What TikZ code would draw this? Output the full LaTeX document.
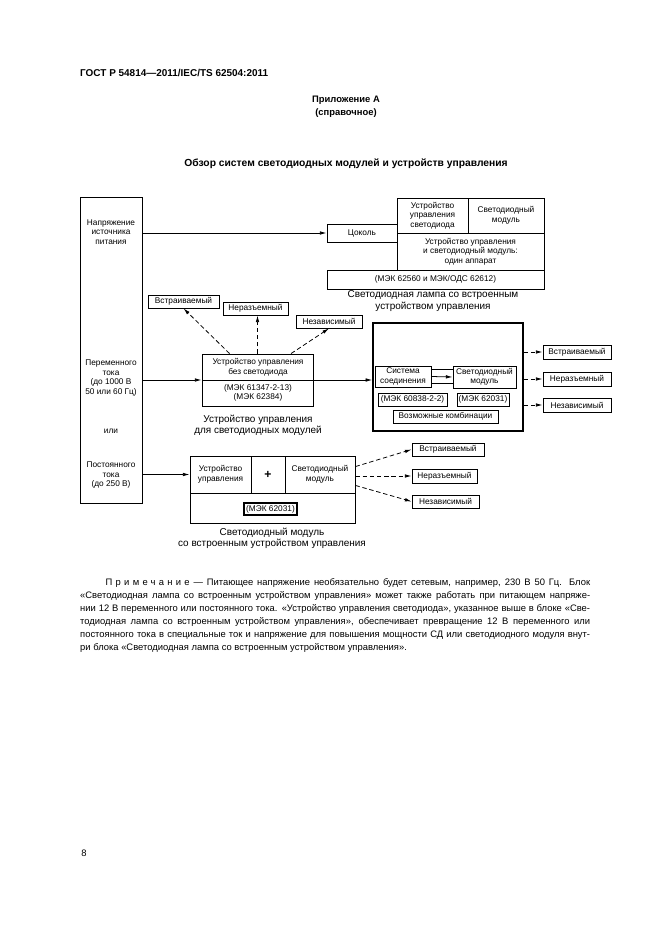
\documentclass[tikz,border=0pt]{standalone}
\usepackage{fontspec}
\setmainfont{Liberation Sans}
\usepackage{tikz}
\usetikzlibrary{arrows.meta}
\usetikzlibrary{calc}

\newcommand{\boxfont}{\fontsize{7.5}{8.6}\selectfont}
\newcommand{\lblfont}{\fontsize{9}{10.2}\selectfont}
\newcommand{\notefont}{\fontsize{8.5}{11.75}\selectfont}
\newlength{\notewd}\setlength{\notewd}{162mm}
\newcommand{\noteline}[1]{\makebox[\notewd][s]{#1}}

\tikzset{
  box/.style={draw, line width=0.8pt, inner sep=0pt, align=center, font=\boxfont},
  cell/.style 2 args={minimum width=#1*0.3177mm, minimum height=#2*0.3177mm},
  txt/.style={align=center, inner sep=0pt, font=\boxfont},
  lbl/.style={align=center, inner sep=0pt, font=\lblfont},
  arr/.style={-{Latex[length=6pt,width=3.2pt]}, line width=0.7pt},
  dsh/.style={arr, dash pattern=on 4pt off 2.5pt},
}

\begin{document}
\begin{tikzpicture}[x=0.3177mm, y=-0.3177mm]
  \useasboundingbox (0,0) rectangle (661,936);

  % header
  \node[anchor=west, inner sep=0pt, font=\fontsize{9}{10}\selectfont\bfseries] (gost) at (80,73) {ГОСТ Р 54814—2011/IEC/TS 62504:2011};
  \node[align=center, inner sep=0pt, font=\fontsize{8.5}{11.5}\selectfont\bfseries] (annex) at (346,107) {Приложение А\\(справочное)};
  \node[inner sep=0pt, font=\fontsize{9.3}{11}\selectfont\bfseries] (title) at (346,164) {Обзор систем светодиодных модулей и устройств управления};

  % power source
  \node[box, cell={62}{306}] (src) at (111,350) {};
  \node[txt] (srcA) at (111,232) {Напряжение\\источника\\питания};
  \node[txt] (srcB) at (111,378) {Переменного\\тока\\(до 1000 В\\50 или 60 Гц)};
  \node[txt] (srcC) at (111,431) {или};
  \node[txt] (srcD) at (111,475) {Постоянного\\тока\\(до 250 В)};

  % lamp with built-in control gear
  \node[box, cell={70}{18}] (socle) at (362,233) {Цоколь};
  \node[box, cell={71}{35}] (lampctl) at (432.5,215.5) {Устройство\\управления\\светодиода};
  \node[box, cell={76}{35}] (lampled) at (506,215.5) {Светодиодный\\модуль};
  \node[box, cell={147}{37}] (lampone) at (470.5,251.5) {Устройство управления\\и светодиодный модуль:\\один аппарат};
  \node[box, cell={217}{19}] (lampstd) at (435.5,279.5) {(МЭК 62560 и МЭК/ОДС 62612)};
  \node[lbl] (lamplbl) at (433,301) {Светодиодная лампа со встроенным\\устройством управления};
  \draw[arr] (src.east |- socle.west) -- (socle.west);

  % control gear without LED
  \node[box, cell={71}{13}] (tb1) at (183.5,301.5) {Встраиваемый};
  \node[box, cell={65}{13}] (tb2) at (255.5,308.5) {Неразъемный};
  \node[box, cell={66}{13}] (tb3) at (329,321.5) {Независимый};
  \node[box, cell={111}{52}] (ctrl) at (257.5,380) {};
  \node[txt] (ctrlA) at (258,367) {Устройство управления\\без светодиода};
  \node[txt] (ctrlB) at (258,393) {(МЭК 61347-2-13)\\(МЭК 62384)};
  \draw[line width=0.8pt] (ctrl.west) -- (ctrl.east);
  \node[lbl] (ctrllbl) at (258,425) {Устройство управления\\для светодиодных модулей};
  \draw[arr] (src.east |- ctrl.west) -- (ctrl.west);
  \draw[dsh] ($(ctrl.north west)!0.25!(ctrl.north east)$) -- (tb1.south);
  \draw[dsh] (ctrl.north) -- (ctrl.north |- tb2.south);
  \draw[dsh] ($(ctrl.north west)!0.8!(ctrl.north east)$) -- (tb3.south);

  % possible combinations
  \node[box, line width=1.4pt, cell={150}{108}] (combo) at (448,377) {};
  \node[box, cell={56}{21}] (sys) at (403,376.5) {Система\\соединения};
  \node[box, cell={63}{22}] (mod) at (484.5,377) {Светодиодный\\модуль};
  \node[box, cell={69}{13}] (std1) at (412.5,399.5) {(МЭК 60838-2-2)};
  \node[box, cell={52}{13}] (std2) at (483,399.5) {(МЭК 62031)};
  \node[box, cell={105}{13}] (combos) at (445.5,416.5) {Возможные комбинации};
  \draw[arr] (sys.east) -- (mod.west);
  \draw[line width=0.8pt] ([yshift=2.2mm]sys.east) -- ([yshift=2.2mm]sys.east -| mod.west);
  \draw[line width=0.8pt] ([yshift=-2.2mm]sys.east) -- ([yshift=-2.2mm]sys.east -| mod.west);
  \draw[arr] (ctrl.east) -- (combo.west |- ctrl.east);
  \node[box, cell={68}{14}] (rb1) at (577,352) {Встраиваемый};
  \node[box, cell={68}{14}] (rb2) at (577,379) {Неразъемный};
  \node[box, cell={68}{14}] (rb3) at (577,405) {Независимый};
  \foreach \b in {rb1,rb2,rb3}
    \draw[dsh] (combo.east |- \b.west) -- (\b.west);

  % LED module with built-in control gear
  \node[box, cell={61}{37}] (ledA) at (220.5,474.5) {Устройство\\управления};
  \node[box, cell={34}{37}, font=\fontsize{11}{12}\selectfont\bfseries] (ledP) at (268,474.5) {+};
  \node[box, cell={70}{37}] (ledB) at (320,474.5) {Светодиодный\\модуль};
  \node[box, cell={165}{30}] (ledC) at (272.5,508) {};
  \node[box, line width=1.3pt, cell={53}{12}] (ledstd) at (270.5,509) {(МЭК 62031)};
  \node[lbl] (ledlbl) at (272,538) {Светодиодный модуль\\со встроенным устройством управления};
  \draw[arr] (src.east |- ledA.west) -- (ledA.west);
  \node[box, cell={72}{13}] (bb1) at (448,449.5) {Встраиваемый};
  \node[box, cell={65}{14}] (bb2) at (444.5,476) {Неразъемный};
  \node[box, cell={67}{13}] (bb3) at (445.5,501.5) {Независимый};
  \draw[dsh] ([yshift=3mm]ledB.east |- bb2.west) -- (bb1.west);
  \draw[dsh] (ledB.east |- bb2.west) -- (bb2.west);
  \draw[dsh] ([yshift=-3mm]ledB.east |- bb2.west) -- (bb3.west);

  % note
  \node[anchor=north west, align=left, inner sep=0pt, font=\notefont] (note) at (80,578) {%
    \noteline{\hspace*{23pt}{\addfontfeature{LetterSpace=35}Примечание} — Питающее напряжение необязательно будет сетевым, например, 230 В 50 Гц. Блок}\\
    \noteline{«Светодиодная лампа со встроенным устройством управления» может также работать при питающем напряже-}\\
    \noteline{нии 12 В переменного или постоянного тока. «Устройство управления светодиода», указанное выше в блоке «Све-}\\
    \noteline{тодиодная лампа со встроенным устройством управления», обеспечивает превращение 12 В переменного или}\\
    \noteline{постоянного тока в специальные ток и напряжение для повышения мощности СД или светодиодного модуля внут-}\\
    ри блока «Светодиодная лампа со встроенным устройством управления».};

  \node[inner sep=0pt, font=\notefont] (pgno) at (84,853) {8};
\end{tikzpicture}
\end{document}
